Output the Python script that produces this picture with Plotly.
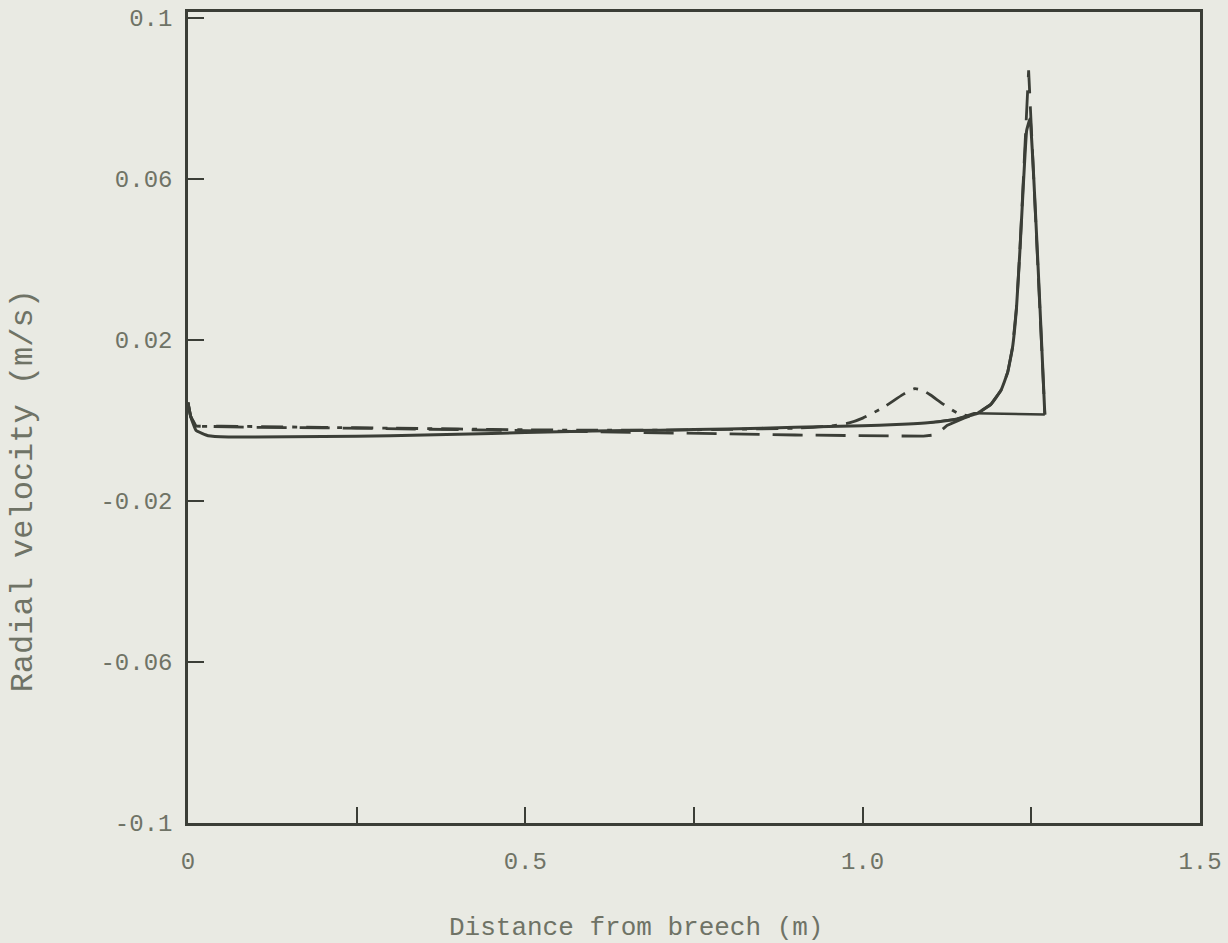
import plotly.graph_objects as go

# --- data ---
x_solid = [0.0, 0.004, 0.012, 0.03, 0.06, 0.1, 0.2, 0.3, 0.4, 0.5, 0.6, 0.7, 0.8, 0.9, 1.0,
           1.05, 1.1, 1.14, 1.17, 1.19, 1.205, 1.215, 1.222, 1.228, 1.233, 1.238, 1.243, 1.248, 1.27]
y_solid = [0.0045, 0.001, -0.0025, -0.0038, -0.0041, -0.0041, -0.004, -0.0038, -0.0034, -0.003,
           -0.0026, -0.0024, -0.0021, -0.0017, -0.0013, -0.001, -0.0005, 0.0004, 0.0018, 0.004,
           0.0075, 0.012, 0.018, 0.028, 0.042, 0.058, 0.072, 0.075, 0.0015]

x_flat = [1.1, 1.14, 1.165, 1.27]
y_flat = [-0.0005, 0.0004, 0.0018, 0.0015]

x_dash = [0.0, 0.004, 0.012, 0.05, 0.1, 0.2, 0.3, 0.4, 0.5, 0.6, 0.7, 0.8, 0.9, 1.0, 1.05,
          1.09, 1.105, 1.115, 1.125, 1.15, 1.17, 1.19, 1.205, 1.215, 1.222, 1.228, 1.233,
          1.238, 1.242, 1.246, 1.27]
y_dash = [0.0045, 0.001, -0.0014, -0.0016, -0.0017, -0.0018, -0.002, -0.0022, -0.0025,
          -0.0028, -0.003, -0.0033, -0.0036, -0.0038, -0.0039, -0.0039, -0.0036, -0.0027,
          -0.0012, 0.0006, 0.0018, 0.004, 0.0075, 0.012, 0.018, 0.028, 0.042, 0.058, 0.072,
          0.087, 0.0015]

x_dashdot = [0.0, 0.004, 0.012, 0.05, 0.1, 0.2, 0.3, 0.4, 0.5, 0.6, 0.7, 0.8, 0.9, 0.95,
             0.98, 1.0, 1.03, 1.06, 1.077, 1.09, 1.1, 1.12, 1.14, 1.155]
y_dashdot = [0.0045, 0.001, -0.0012, -0.0014, -0.0015, -0.0017, -0.0019, -0.0021, -0.0023,
             -0.0024, -0.0024, -0.0022, -0.0019, -0.0014, -0.0006, 0.0006, 0.0032, 0.0065,
             0.0079, 0.0074, 0.0064, 0.004, 0.0019, 0.0012]

x_tick_vals = [0, 0.5, 1.0, 1.5]
x_tick_text = ["0", "0.5", "1.0", "1.5"]
y_tick_vals = [0.1, 0.06, 0.02, -0.02, -0.06, -0.1]
y_tick_text = ["0.1", "0.06", "0.02", "-0.02", "-0.06", "-0.1"]

x_title = "Distance from breech (m)"
y_title = "Radial velocity (m/s)"

LINE = "#3b3e37"
TEXT = "#6f7366"
BG = "#e9eae3"
FONT = "Liberation Mono, Courier New, monospace"

fig = go.Figure()
fig.add_trace(go.Scatter(x=x_dashdot, y=y_dashdot, mode="lines",
                         line=dict(color=LINE, width=2.8, dash="22px,9px,5px,9px", shape="spline", smoothing=0.6)))
fig.add_trace(go.Scatter(x=x_dash, y=y_dash, mode="lines",
                         line=dict(color=LINE, width=2.8, dash="30px,13px")))
fig.add_trace(go.Scatter(x=x_flat, y=y_flat, mode="lines",
                         line=dict(color=LINE, width=2.3)))
fig.add_trace(go.Scatter(x=x_solid, y=y_solid, mode="lines",
                         line=dict(color=LINE, width=3, shape="spline", smoothing=0.3)))

fig.update_layout(
    width=1228, height=943,
    paper_bgcolor=BG, plot_bgcolor=BG,
    margin=dict(l=188, r=28, t=12, b=120, autoexpand=False),
    showlegend=False,
    font=dict(family=FONT, color=TEXT, size=24),
    annotations=[
        dict(text=x_title, xref="paper", yref="paper", x=0.4427, y=-0.1295,
             xanchor="center", yanchor="middle", showarrow=False,
             font=dict(size=26, color=TEXT, family=FONT)),
        dict(text=y_title, xref="paper", yref="paper", x=-0.163, y=0.409,
             xanchor="center", yanchor="middle", showarrow=False, textangle=-90,
             font=dict(size=32, color=TEXT, family=FONT)),
    ],
)
fig.update_xaxes(
    range=[0, 1.5], showgrid=False, zeroline=False, automargin=False,
    showline=True, mirror=True, linecolor=LINE, linewidth=2.5,
    tickmode="array", tickvals=x_tick_vals, ticktext=x_tick_text,
    ticks="inside", ticklen=16, tickwidth=2, tickcolor=LINE,
    minor=dict(dtick=0.25, ticks="inside", ticklen=16, tickwidth=2, tickcolor=LINE, showgrid=False),
    ticklabelstandoff=14,
    tickfont=dict(size=24, color=TEXT, family=FONT),
)
fig.update_yaxes(
    range=[-0.1, 0.1015], showgrid=False, zeroline=False, automargin=False,
    showline=True, mirror=True, linecolor=LINE, linewidth=2.5,
    tickmode="array", tickvals=y_tick_vals, ticktext=y_tick_text,
    ticks="inside", ticklen=16, tickwidth=2, tickcolor=LINE,
    ticklabelstandoff=8,
    tickfont=dict(size=24, color=TEXT, family=FONT),
)

fig.write_html(
    "out.html",
    config={"displayModeBar": False},
    post_script="document.body.style.margin='0';document.body.style.background='#e9eae3';",
)
